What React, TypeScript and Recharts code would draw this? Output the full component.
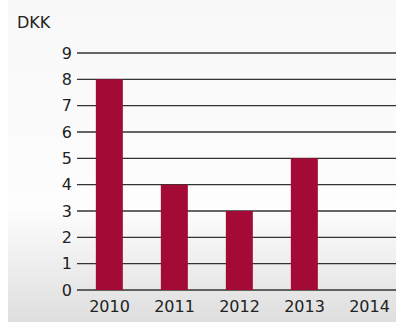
import { BarChart, Bar, XAxis, YAxis, CartesianGrid } from 'recharts';

const years = ['2010', '2011', '2012', '2013', '2014'];
const values = [8, 4, 3, 5, 0];
const yTicks = [0, 1, 2, 3, 4, 5, 6, 7, 8, 9];

const data = years.map((year, i) => ({ year, value: values[i] }));

const font = '"DejaVu Sans", sans-serif';

export default function App() {
  return (
    <div
      style={{
        position: 'absolute',
        left: 0,
        top: 0,
        width: 396,
        height: 323,
        overflow: 'hidden',
        background: '#fff',
        fontFamily: font,
      }}
    >
      <div
        style={{
          position: 'absolute',
          left: 8,
          top: 0,
          width: 388,
          height: 322,
          background: 'linear-gradient(to bottom, #f8f8f8 0%, #fdfdfd 65%, #dedede 100%)',
        }}
      />
      <div style={{ position: 'absolute', left: 17, top: 13, fontSize: 16, color: '#222' }}>DKK</div>
      <div style={{ position: 'absolute', left: 0, top: 0 }}>
        <BarChart
          width={410}
          height={323}
          data={data}
          margin={{ top: 53, right: 8, left: 0, bottom: 0 }}
          barCategoryGap="29%"
        >
          <CartesianGrid horizontal vertical={false} stroke="#333" strokeWidth={1.3} />
          <XAxis
            dataKey="year"
            height={33}
            axisLine={false}
            tickLine={false}
            tickSize={6}
            tickMargin={5}
            tick={{ fill: '#222', fontSize: 16, fontFamily: font }}
          />
          <YAxis
            width={77}
            domain={[0, 9]}
            ticks={yTicks}
            interval={0}
            axisLine={false}
            tickLine={false}
            tickSize={5}
            tickMargin={0}
            tick={{ fill: '#222', fontSize: 16, fontFamily: font }}
          />
          <Bar dataKey="value" fill="#a30b36" isAnimationActive={false} />
        </BarChart>
      </div>
    </div>
  );
}
